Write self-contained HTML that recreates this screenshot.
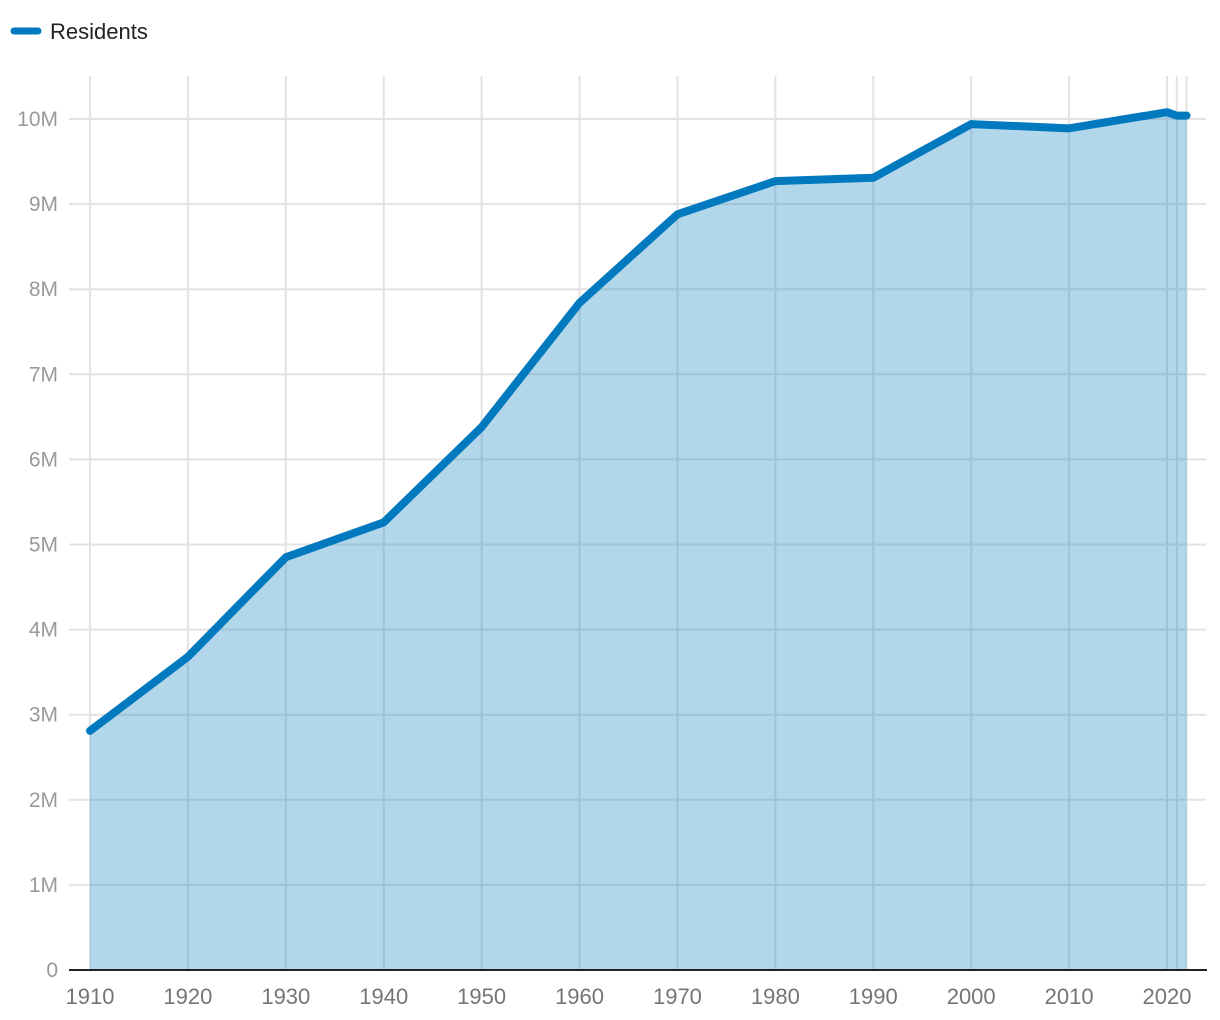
<!DOCTYPE html>
<html><head><meta charset="utf-8"><style>
html,body{margin:0;padding:0;background:#fff;}
svg{display:block;font-family:"Liberation Sans",sans-serif;}
</style></head><body>
<svg id="chart" width="1220" height="1020">
<g>
<line x1="14" y1="31" x2="38" y2="31" stroke="#0079bf" stroke-width="7" stroke-linecap="round"/>
<text x="50" y="39" font-size="22" fill="#222">Residents</text>
</g>
<g id="grid"></g>
<g id="area"></g>
<g id="vgrid2"></g>
<g id="axes"></g>
</svg>
<script>
const years=[1910,1920,1930,1940,1950,1960,1970,1980,1990,2000,2010,2020,2021,2022];
const residents=[2.81,3.68,4.85,5.26,6.38,7.84,8.88,9.27,9.31,9.94,9.89,10.08,10.04,10.04];
const yTicks=[0,1,2,3,4,5,6,7,8,9,10];
const yTickLabels=["0","1M","2M","3M","4M","5M","6M","7M","8M","9M","10M"];
const xTicks=[1910,1920,1930,1940,1950,1960,1970,1980,1990,2000,2010,2020];

const NS="http://www.w3.org/2000/svg";
const X=v=>90+(v-1910)*(1167-90)/110;
const Y=v=>970-v*85.1;
function mk(tag,attrs,parent){const e=document.createElementNS(NS,tag);for(const k in attrs)e.setAttribute(k,attrs[k]);parent.appendChild(e);return e;}
const grid=document.getElementById('grid'),area=document.getElementById('area'),g2=document.getElementById('vgrid2'),axes=document.getElementById('axes');

yTicks.forEach((t,i)=>{
  if(t>0){const l=mk('line',{x1:69,x2:1206,y1:Y(t),y2:Y(t),stroke:'#e3e3e3','stroke-width':2},grid);
  
  }
  const tx=mk('text',{x:58,y:Y(t)+7,'text-anchor':'end','font-size':21,fill:'#9a9a9a'},axes);
  tx.textContent=yTickLabels[i];
  
  
});
years.forEach(yr=>{
  const l=mk('line',{x1:X(yr),x2:X(yr),y1:76,y2:970,stroke:'#e3e3e3','stroke-width':2},grid);
  
  
});
let d='M'+X(years[0])+','+Y(0);
years.forEach((yr,i)=>{d+=' L'+X(yr)+','+Y(residents[i]);});
d+=' L'+X(years[years.length-1])+','+Y(0)+' Z';
const a=mk('path',{d:d,fill:'#b3d7ea'},area);


years.forEach((yr,i)=>{
  const l=mk('line',{x1:X(yr),x2:X(yr),y1:Y(residents[i]),y2:970,stroke:'#9fc3d6','stroke-width':2},g2);
  
  
});
yTicks.forEach(t=>{if(t>0){
  const l=mk('line',{x1:X(1910),x2:X(2022),y1:Y(t),y2:Y(t),stroke:'#a0c4d7','stroke-width':2},g2);
  
  
}});
const cp=mk('clipPath',{id:'ac'},document.getElementById('chart'));
mk('path',{d:d},cp);
g2.setAttribute('clip-path','url(#ac)');
const pts=years.map((yr,i)=>X(yr)+','+Y(residents[i])).join(' ');
const ln=mk('polyline',{points:pts,fill:'none',stroke:'#0079bf','stroke-width':8,'stroke-linejoin':'round','stroke-linecap':'round'},area.parentNode);


const base=mk('line',{x1:69,x2:1207,y1:970,y2:970,stroke:'#222','stroke-width':2},axes);


xTicks.forEach(t=>{
  const tx=mk('text',{x:X(t),y:1004,'text-anchor':'middle','font-size':22,fill:'#757575'},axes);
  tx.textContent=t;
  
  
});
</script>
</body></html>
